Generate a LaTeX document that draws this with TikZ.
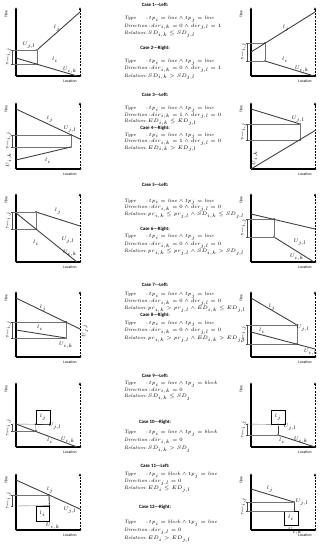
\documentclass[tikz,border=0pt]{standalone}
\usepackage{fontspec}
\newfontfamily\carl{Carlito}
\usetikzlibrary{arrows.meta,calc}
\tikzset{
 axisline/.style={line width=1.1pt, -{Latex[length=3pt,width=2.6pt]}},
 dashax/.style={line width=0.9pt, dash pattern=on 2pt off 1.2pt, -{Latex[length=3pt,width=2.6pt]}},
 segline/.style={line width=0.9pt, draw=black!75},
 guide/.style={line width=0.35pt, draw=black!55},
 brk/.style={line width=0.35pt, draw=black!70, {Bar[width=2pt]}-{Bar[width=2pt]}},
 dotn/.style={circle, fill=black, inner sep=0pt, minimum size=1.8pt},
 lbl/.style={font=\fontsize{3.3}{4}\selectfont, inner sep=0.3pt},
 axlbl/.style={font=\carl\fontsize{3.8}{4}\selectfont, inner sep=0.3pt},
 ttl/.style={font=\carl\bfseries\fontsize{4.9}{5}\selectfont, inner sep=0pt},
 txt/.style={font=\fontsize{4.9}{5.5}\selectfont, inner sep=0pt, anchor=base west},
 blk/.style={draw, line width=0.8pt, inner sep=0pt, minimum width=14pt, minimum height=14pt, font=\fontsize{3.3}{4}\selectfont},
}
% frame: name, x0, ytop, ybottom
\newcommand\frameplot[4]{%
 \coordinate (#1o) at (#2,#4);
 \coordinate (#1t) at (#2,#3);
 \coordinate (#1r) at (#2+66,#4);
 \coordinate (#1d) at (#2+64,#3);
 \coordinate (#1db) at (#2+64,#4);
 \draw[axisline] (#1o) -- (#1t);
 \draw[axisline] (#1o) -- (#1r);
 \draw[dashax] (#1db) -- (#1d);
 \node[axlbl, rotate=90] (#1T) at (#2-10,#3+7) {Time};
 \node[axlbl] (#1L) at (#2+54,#4+5) {Location};
}
% time bracket: name, x0, y1, y2
\newcommand\timebrk[4]{%
 \coordinate (#1a) at (#2-4,#3);
 \coordinate (#1b) at (#2-4,#4);
 \draw[brk] (#1a) -- (#1b);
 \node[lbl, rotate=90, anchor=south] (#1n) at ($(#1a)!0.5!(#1b)+(-0.6,0)$) {\textit{Time}$_{i,j}$};
}
\newcommand\tline[3]{\node[txt] (#1) at (124,#2+1.6) {#3};}
\newcommand\ttitle[3]{\node[ttl] (#1) at (155,#2) {#3};}
\newcommand\TY[1]{\makebox[22pt][l]{\textit{Type}}:\,$#1$}
\newcommand\DI[1]{\textit{Direction}\,:\,$#1$}
\newcommand\RE[1]{\makebox[21pt][l]{\textit{Relation}}:\,$#1$}
\newcommand\LL{tp_i=\mathit{line}\wedge tp_j=\mathit{line}}
\begin{document}
\begin{tikzpicture}[x=1pt,y=-1pt]
\useasboundingbox (0,0) rectangle (323,550);
% ================= Row 1 =================
\ttitle{c1}{5}{Case 1---Left:}
\tline{c1t}{18}{\TY{\LL}}
\tline{c1d}{25.5}{\DI{dir_{i,k}=0\wedge dir_{j,l}=1}}
\tline{c1r}{33}{\RE{SD_{i,k}\le SD_{j,l}}}
\ttitle{c2}{48}{Case 2---Right:}
\tline{c2t}{61}{\TY{\LL}}
\tline{c2d}{68}{\DI{dir_{i,k}=0\wedge dir_{j,l}=1}}
\tline{c2r}{75.5}{\RE{SD_{i,k}> SD_{j,l}}}
% case 1 plot
\frameplot{pa}{16}{7}{76}
\node[dotn] (a1) at (37,50) {};
\node[dotn] (a2) at (37,64) {};
\coordinate (a3) at (80,12);
\coordinate (a4) at (16,58);
\coordinate (a5) at (77,76);
\coordinate (a6) at (12,50);
\coordinate (a7) at (12,64);
\draw[guide] (a6) -- (a1); \draw[guide] (a7) -- (a2); \draw[guide] (a1) -- (a2);
\draw[segline] (a1) -- (a3);
\draw[segline] (a4) -- (a5);
\timebrk{ba}{16}{50}{64}
\node[lbl] (la1) at (29,45) {$U_{j,l}$};
\node[lbl] (la2) at (57,28) {$l_j$};
\node[lbl] (la3) at (55,60) {$l_i$};
\node[lbl] (la4) at (70,70) {$U_{i,k}$};
% case 2 plot
\frameplot{pb}{251}{7}{76}
\node[dotn] (b1) at (265,43) {};
\node[dotn] (b2) at (265,61) {};
\coordinate (b3) at (315,12);
\coordinate (b4) at (251,52);
\coordinate (b5) at (314,76);
\coordinate (b6) at (247,43);
\coordinate (b7) at (247,61);
\draw[guide] (b6) -- (b1); \draw[guide] (b7) -- (b2); \draw[guide] (b1) -- (b2);
\draw[segline] (b4) -- (b3);
\draw[segline] (b2) -- (b5);
\timebrk{bb}{251}{43}{61}
\node[lbl] (lb2) at (286,28) {$l_j$};
\node[lbl] (lb3) at (285,60) {$l_i$};
\node[lbl] (lb4) at (302,69) {$U_{i,k}$};
% ================= Row 2 =================
\ttitle{c3}{95}{Case 3---Left:}
\tline{c3t}{108}{\TY{\LL}}
\tline{c3d}{114.5}{\DI{dir_{i,k}=1\wedge dir_{j,l}=0}}
\tline{c3r}{121}{\RE{ED_{i,k}\le ED_{j,l}}}
\ttitle{c4}{128}{Case 4---Right:}
\tline{c4t}{134.5}{\TY{\LL}}
\tline{c4d}{141}{\DI{dir_{i,k}=1\wedge dir_{j,l}=0}}
\tline{c4r}{147.5}{\RE{ED_{i,k}> ED_{j,l}}}
% case 3 plot
\frameplot{pc}{16}{102}{169}
\node[dotn] (c1n) at (71,135) {};
\node[dotn] (c2n) at (71,147) {};
\coordinate (c3n) at (16,109);
\coordinate (c4n) at (80,139);
\coordinate (c5n) at (16,160);
\coordinate (c6n) at (12,135);
\coordinate (c7n) at (12,147);
\draw[guide] (c6n) -- (c1n); \draw[guide] (c7n) -- (c2n); \draw[guide] (c1n) -- (c2n);
\draw[segline] (c3n) -- (c4n);
\draw[segline] (c5n) -- (c2n);
\timebrk{bc}{16}{135}{147}
\node[lbl] (lc1) at (70,129) {$U_{j,l}$};
\node[lbl] (lc2) at (50,119) {$l_j$};
\node[lbl] (lc3) at (48,161) {$l_i$};
\node[lbl, rotate=90] (lc4) at (9,160) {$U_{i,k}$};
% case 4 plot
\frameplot{pd}{251}{102}{169}
\node[dotn] (d1) at (300,124) {};
\node[dotn] (d2) at (300,140) {};
\coordinate (d3) at (251,109);
\coordinate (d4) at (316,130);
\coordinate (d6) at (247,124);
\coordinate (d7) at (247,140);
\draw[guide] (d6) -- (d1); \draw[guide] (d7) -- (d2); \draw[guide] (d1) -- (d2);
\draw[segline] (d3) -- (d1);
\draw[segline] (pdo) -- (d4);
\timebrk{bd}{251}{124}{140}
\node[lbl] (ld1) at (298,119) {$U_{j,l}$};
\node[lbl, rotate=90] (ld4) at (255,158) {$U_{i,k}$};
% ================= Row 3 =================
\ttitle{c5}{185}{Case 5---Left:}
\tline{c5t}{200.5}{\TY{\LL}}
\tline{c5d}{207}{\DI{dir_{i,k}=0\wedge dir_{j,l}=0}}
\tline{c5r}{214}{\RE{pr_{i,k}\le pr_{j,l}\wedge SD_{i,k}\le SD_{j,l}}}
\ttitle{c6}{229}{Case 6---Right:}
\tline{c6t}{236}{\TY{\LL}}
\tline{c6d}{244}{\DI{dir_{i,k}=0\wedge dir_{j,l}=0}}
\tline{c6r}{251}{\RE{pr_{i,k}\le pr_{j,l}\wedge SD_{i,k}> SD_{j,l}}}
% case 5 plot
\frameplot{pe}{16}{193}{262}
\node[dotn] (e1) at (36,212) {};
\node[dotn] (e2) at (36,229) {};
\coordinate (e3) at (80,226);
\coordinate (e4) at (16,213);
\coordinate (e5) at (77,262);
\coordinate (e6) at (12,212);
\coordinate (e7) at (12,229);
\draw[guide] (e6) -- (e1); \draw[guide] (e7) -- (e2); \draw[guide] (e1) -- (e2);
\draw[segline] (e1) -- (e3);
\draw[segline] (e4) -- (e5);
\timebrk{be}{16}{212}{229}
\node[lbl] (le1) at (58,211) {$l_j$};
\node[lbl] (le2) at (68,240) {$U_{j,l}$};
\node[lbl] (le3) at (36,243) {$l_i$};
\node[lbl] (le4) at (70,253) {$U_{i,k}$};
% case 6 plot
\frameplot{pf}{251}{193}{262}
\node[dotn] (f1) at (274,219) {};
\node[dotn] (f2) at (274,237) {};
\coordinate (f3) at (251,214);
\coordinate (f4) at (315,229);
\coordinate (f5) at (314,262);
\coordinate (f6) at (247,219);
\coordinate (f7) at (247,237);
\draw[guide] (f6) -- (f1); \draw[guide] (f7) -- (f2); \draw[guide] (f1) -- (f2);
\draw[segline] (f3) -- (f4);
\draw[segline] (f2) -- (f5);
\timebrk{bf}{251}{219}{237}
\node[lbl] (lf1) at (300,242) {$U_{j,l}$};
\node[lbl] (lf2) at (297,257) {$U_{i,k}$};
% ================= Row 4 =================
\ttitle{c7}{285}{Case 7---Left:}
\tline{c7t}{294}{\TY{\LL}}
\tline{c7d}{301}{\DI{dir_{i,k}=0\wedge dir_{j,l}=0}}
\tline{c7r}{308}{\RE{pr_{i,k}> pr_{j,l}\wedge ED_{i,k}\le ED_{j,l}}}
\ttitle{c8}{315}{Case 8---Right:}
\tline{c8t}{322.5}{\TY{\LL}}
\tline{c8d}{330}{\DI{dir_{i,k}=0\wedge dir_{j,l}=0}}
\tline{c8r}{338}{\RE{pr_{i,k}> pr_{j,l}\wedge ED_{i,k}> ED_{j,l}}}
% case 7 plot
\frameplot{pg}{16}{291}{357}
\node[dotn] (g1) at (66,322) {};
\node[dotn] (g2) at (66,338) {};
\coordinate (g3) at (16,298);
\coordinate (g4) at (80,329);
\coordinate (g5) at (16,330);
\coordinate (g6) at (12,322);
\coordinate (g7) at (12,338);
\draw[guide] (g6) -- (g1); \draw[guide] (g7) -- (g2); \draw[guide] (g1) -- (g2);
\draw[segline] (g3) -- (g4);
\draw[segline] (g5) -- (g2);
\timebrk{bg}{16}{322}{338}
\node[lbl] (lg1) at (43,308) {$l_j$};
\node[lbl] (lg2) at (40,328) {$l_i$};
\node[lbl, rotate=90] (lg3) at (85,331) {$U_{j,l}$};
\node[lbl] (lg4) at (66,345) {$U_{i,k}$};
% case 8 plot
\frameplot{ph}{251}{291}{357}
\node[dotn] (h1) at (297,325) {};
\node[dotn] (h2) at (297,344) {};
\coordinate (h3) at (251,298);
\coordinate (h4) at (251,332);
\coordinate (h5) at (315,349);
\coordinate (h6) at (247,325);
\coordinate (h7) at (247,344);
\draw[guide] (h6) -- (h1); \draw[guide] (h7) -- (h2); \draw[guide] (h1) -- (h2);
\draw[segline] (h3) -- (h1);
\draw[segline] (h4) -- (h5);
\timebrk{bh}{251}{325}{344}
\node[lbl] (lh1) at (272,307) {$l_j$};
\node[lbl] (lh2) at (262,331) {$l_i$};
\node[lbl] (lh3) at (303,328) {$U_{j,l}$};
\node[lbl] (lh4) at (311,352) {$U_{i,k}$};
% ================= Row 5 =================
\ttitle{c9}{376}{Case 9---Left:}
\tline{c9t}{383}{\TY{tp_i=\mathit{line}\wedge tp_j=\mathit{block}}}
\tline{c9d}{389.5}{\DI{dir_{i,k}=0}}
\tline{c9r}{396}{\RE{SD_{i,k}\le SD_{j}}}
\ttitle{c10}{422}{Case 10---Right:}
\tline{c10t}{432}{\TY{tp_i=\mathit{line}\wedge tp_j=\mathit{block}}}
\tline{c10d}{440}{\DI{dir_{i,k}=0}}
\tline{c10r}{448}{\RE{SD_{i,k}> SD_{j}}}
% case 9 plot
\frameplot{pi}{16}{382}{447}
\node[blk] (i0) at (43,417) {$l_j$};
\node[dotn] (i1) at (i0.south west) {};
\node[dotn] (i2) at (36,431) {};
\coordinate (i4) at (16,424);
\coordinate (i5) at (77,447);
\coordinate (i6) at (12,424);
\coordinate (i7) at (12,431);
\draw[guide] (i6) -- (i0.south east); \draw[guide] (i7) -- (i2); \draw[guide] (i1) -- (i2);
\draw[segline] (i4) -- (i5);
\timebrk{bi}{16}{424}{431}
\node[lbl] (li1) at (55,426) {$U_{j,l}$};
\node[lbl] (li2) at (50,441) {$l_i$};
\node[lbl] (li3) at (68,440) {$U_{i,k}$};
% case 10 plot
\frameplot{pj}{251}{382}{447}
\node[blk] (j0) at (278,417) {$l_j$};
\node[dotn] (j1) at (j0.south) {};
\node[dotn] (j2) at (278,435) {};
\coordinate (j5) at (315,447);
\coordinate (j6) at (247,424);
\coordinate (j7) at (247,435);
\draw[guide] (j6) -- (j0.south west); \draw[guide] (j7) -- (j2);
\draw[segline] (j1) -- (j2);
\draw[segline] (j2) -- (j5);
\timebrk{bj}{251}{424}{435}
\node[lbl] (lj1) at (290,427) {$U_{j,l}$};
\node[lbl] (lj2) at (282,441) {$l_i$};
\node[lbl] (lj3) at (301,440) {$U_{i,k}$};
% ================= Row 6 =================
\ttitle{c11}{466}{Case 11---Left:}
\tline{c11t}{474}{\TY{tp_i=\mathit{block}\wedge tp_j=\mathit{line}}}
\tline{c11d}{481}{\DI{dir_{j,l}=0}}
\tline{c11r}{488}{\RE{ED_{i}\le ED_{j,l}}}
\ttitle{c12}{507}{Case 12---Right:}
\tline{c12t}{522}{\TY{tp_i=\mathit{block}\wedge tp_j=\mathit{line}}}
\tline{c12d}{530}{\DI{dir_{j,l}=0}}
\tline{c12r}{538}{\RE{ED_{i}> ED_{j,l}}}
% case 11 plot
\frameplot{pk}{16}{473}{530}
\node[dotn] (k1) at (49,495) {};
\node[blk, minimum width=13pt, minimum height=15pt] (k0) at (42.5,513.5) {$l_i$};
\node[dotn] (k2) at (k0.north east) {};
\coordinate (k3) at (16,480);
\coordinate (k4) at (80,509);
\coordinate (k6) at (12,495);
\coordinate (k7) at (12,506);
\draw[guide] (k6) -- (k1); \draw[guide] (k7) -- (k2);
\draw[segline] (k1) -- (k2);
\draw[segline] (k3) -- (k4);
\timebrk{bk}{16}{495}{506}
\node[lbl] (lk1) at (50,490) {$l_j$};
\node[lbl] (lk2) at (70,510) {$U_{j,l}$};
\node[lbl] (lk3) at (53,526) {$U_{i,k}$};
% case 12 plot
\frameplot{pl}{251}{473}{530}
\node[dotn] (m1) at (294,502) {};
\node[blk] (m0) at (291,518) {$l_i$};
\coordinate (m2) at (294,511);
\coordinate (m3) at (251,489);
\coordinate (m6) at (247,502);
\coordinate (m7) at (247,511);
\draw[guide] (m6) -- (m1); \draw[guide] (m7) -- (m2);
\draw[segline] (m1) -- (m2);
\draw[segline] (m3) -- (m1);
\timebrk{bm}{251}{502}{511}
\node[lbl] (lm1) at (270,489) {$l_j$};
\node[lbl] (lm2) at (302,502) {$U_{j,l}$};
\node[lbl] (lm3) at (295,531) {$U_{i,k}$};
\end{tikzpicture}
\end{document}
